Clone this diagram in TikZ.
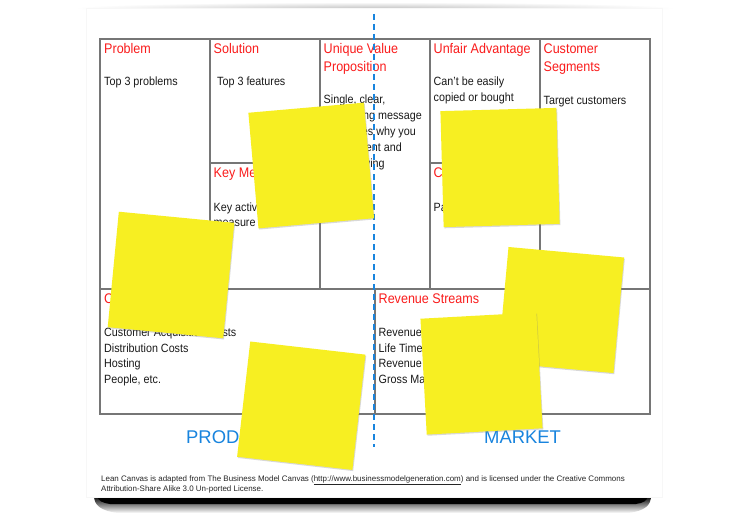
\documentclass[tikz,border=0pt]{standalone}
\usepackage{fontspec}
\setmainfont{Liberation Sans}
\newfontfamily\narrowfont{Liberation Sans}[FakeStretch=0.9]
\usetikzlibrary{shadows}
\definecolor{stickyyellow}{RGB}{247,239,34}
\definecolor{headred}{RGB}{250,28,28}
\definecolor{lineblue}{RGB}{24,132,222}
\definecolor{gridgray}{RGB}{118,118,118}
\begin{document}
\begin{tikzpicture}[x=1bp,y=-1bp,
  gridline/.style={draw=gridgray,line width=1.4bp},
  head/.style={anchor=base west,inner sep=0,text=headred,font=\narrowfont\fontsize{14}{18}\selectfont},
  body/.style={anchor=base west,inner sep=0,text=black!90,font=\narrowfont\fontsize{12}{15}\selectfont},
  sticky/.style={fill=stickyyellow,minimum size=116bp,inner sep=0,
    drop shadow={shadow xshift=0.8bp,shadow yshift=-1.2bp,opacity=0.3}},
  side/.style={anchor=base west,inner sep=0,text=lineblue,font=\fontsize{18.5}{22}\selectfont},
  foot/.style={anchor=base west,inner sep=0,text=black!85,font=\fontsize{8}{10}\selectfont}]
\useasboundingbox (0,0) rectangle (749,519);
\fill[white] (0,0) rectangle (749,519);
% shadows of the card
\shade[inner color=black!22,outer color=white] (375,8) ellipse [x radius=300,y radius=6];
\shade[top color=black,middle color=black!70,bottom color=white]
  (94,496) -- (651,496) .. controls (651,505) and (645,511) .. (628,513)
  -- (118,513) .. controls (101,511) and (94,505) .. (94,496) -- cycle;
\fill[black] (97,496) -- (648,496) .. controls (647,501) and (643,503) .. (636,504)
  -- (110,504) .. controls (103,503) and (98,501) .. (97,496) -- cycle;
\fill[white,draw=black!3] (86,8) rectangle (662,497);
% grid
\draw[gridline] (100,39) rectangle (650,414);
\draw[gridline] (100,289) -- (650,289);
\foreach \gx in {210,320,430,540} \draw[gridline] (\gx,39) -- (\gx,289);
\draw[gridline] (375,289) -- (375,414);
\draw[gridline] (210,163) -- (320,163);
\draw[gridline] (430,163) -- (540,163);
% headings
\node[head] (hprob) at (104,53.5) {Problem};
\node[head] (hsol) at (213.5,53.5) {Solution};
\node[head] (huvp1) at (323.5,53.5) {Unique Value};
\node[head] (huvp2) at (323.5,71.5) {Proposition};
\node[head] (hunf) at (433.5,53.5) {Unfair Advantage};
\node[head] (hcus1) at (543.5,53.5) {Customer};
\node[head] (hcus2) at (543.5,71.5) {Segments};
\node[head] (hkey) at (213.5,177.5) {Key Metrics};
\node[head] (hchan) at (433.5,177.5) {Channels};
\node[head] (hcost) at (104,303.5) {Cost Structure};
\node[head] (hrev) at (378.5,303.5) {Revenue Streams};
% body texts
\node[body] (bprob) at (104,86) {Top 3 problems};
\node[body] (bsol) at (217,86) {Top 3 features};
\foreach \t [count=\i from 0] in {{Single, clear,},compelling message,that states why you,are different and,worth buying}
  \node[body] (buvp\i) at (323.5,104+15.8*\i) {\t};
\node[body] (bunf1) at (433.5,85.5) {Can’t be easily};
\node[body] (bunf2) at (433.5,101.5) {copied or bought};
\node[body] (bcus) at (543.5,104.5) {Target customers};
\node[body] (bkey1) at (213.5,211.5) {Key activities you};
\node[body] (bkey2) at (213.5,227) {measure};
\node[body] (bchan) at (433.5,211.5) {Path to customers};
\foreach \t [count=\i from 0] in {Customer Acquisition Costs,Distribution Costs,Hosting,{People, etc.}}
  \node[body] (bcost\i) at (104,336.5+15.5*\i) {\t};
\foreach \t [count=\i from 0] in {Revenue Model,Life Time Value,Revenue,Gross Margin}
  \node[body] (brev\i) at (378.5,336.5+15.5*\i) {\t};
% product / market
\node[side] (prod) at (186,443) {PRODUCT};
\node[side] (mkt) at (484,443) {MARKET};
% dividing dashed line
\coordinate (dtop) at (374,14);
\coordinate (dbot) at (374,447);
\draw[lineblue,line width=2.2bp,dash pattern=on 6bp off 4bp] (dtop) -- (dbot);
% sticky notes
\node[sticky,rotate=-5.5] (stC) at (171,275) {};
\node[sticky,rotate=5] (stA) at (311.2,165.5) {};
\node[sticky,rotate=1.6] (stB) at (500,167.5) {};
\node[sticky,rotate=-5.2] (stE) at (561,310) {};
\node[sticky,rotate=3.1] (stF) at (481.5,373.5) {};
\node[sticky,rotate=-6.5] (stD) at (301.3,405.7) {};
% footer
\node[foot] (foot1) at (101,481) {Lean Canvas is adapted from The Business Model Canvas (\underline{http://www.businessmodelgeneration.com}) and is licensed under the Creative Commons};
\node[foot] (foot2) at (101,491) {Attribution-Share Alike 3.0 Un-ported License.};
\end{tikzpicture}
\end{document}
